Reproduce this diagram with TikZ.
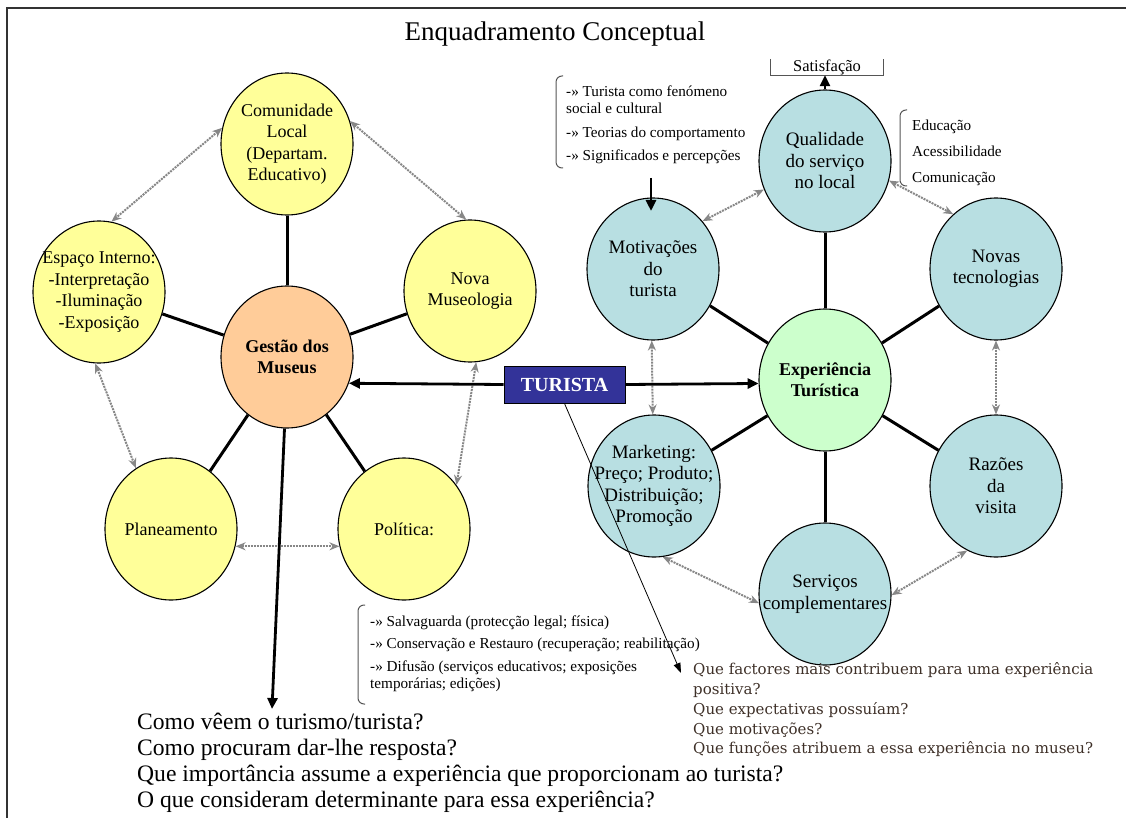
\documentclass[tikz,border=0pt]{standalone}
\usepackage{fontspec}
\setmainfont{Liberation Serif}
\newfontfamily\qfont{DejaVu Serif}
\usetikzlibrary{shapes.geometric,arrows.meta}

\definecolor{yel}{RGB}{255,255,153}
\definecolor{org}{RGB}{255,204,153}
\definecolor{cya}{RGB}{184,223,226}
\definecolor{grn}{RGB}{204,255,204}
\definecolor{tblue}{RGB}{51,51,153}
\definecolor{dotgray}{RGB}{135,135,135}
\definecolor{brk}{RGB}{85,85,85}
\definecolor{qbrown}{RGB}{62,48,40}

\begin{document}
\begin{tikzpicture}[x=1pt,y=-1pt,
  bub/.style={ellipse,draw=black,line width=1.1pt,minimum width=132pt,
    minimum height=142pt,inner xsep=-30pt,inner ysep=0pt,align=center},
  lbub/.style={bub,fill=yel,font=\fontsize{18}{21.5}\selectfont},
  rbub/.style={bub,fill=cya,font=\fontsize{19}{21.5}\selectfont},
  spoke/.style={line width=3pt},
  link/.style={draw=dotgray,line width=2pt,densely dotted,
    {Stealth[length=10pt,width=8pt]}-{Stealth[length=10pt,width=8pt]}},
  mainarrow/.style={line width=2.8pt,-{Triangle[length=11pt,width=10pt]}},
  thinarrow/.style={line width=0.8pt,-{Triangle[length=10pt,width=7pt]}},
  bracket/.style={draw=brk,line width=1pt,rounded corners=6pt},
  item/.style={anchor=base west,inner sep=0pt,font=\fontsize{15.2}{17.5}\selectfont},
  qleft/.style={anchor=base west,inner sep=0pt,font=\fontsize{23.6}{26}\selectfont},
  qright/.style={anchor=base west,inner sep=0pt,text=qbrown,font=\qfont\fontsize{15}{20}\selectfont}]

\useasboundingbox (0,0) rectangle (1126,818);

% frame
\draw[line width=1.5pt,black!80] (7,818) -- (7,8) -- (1126,8);

% title
\node[anchor=base,inner sep=0pt,font=\fontsize{27}{30}\selectfont] (title) at (555,41) {Enquadramento Conceptual};

% museum side
\node[lbub] (com) at (287,144) {Comunidade\\Local\\(Departam.\\Educativo)};
\node[lbub] (esp) at (99,292) {Espaço Interno:\\-Interpretação\\-Iluminação\\-Exposição};
\node[lbub] (nov) at (470,291) {Nova\\Museologia};
\node[bub,fill=org,font=\bfseries\fontsize{18}{21.5}\selectfont] (ges) at (287,357) {Gestão dos\\Museus};
\node[lbub] (pla) at (171,529) {Planeamento};
\node[lbub] (pol) at (404,529) {Política:};

% tourist side
\node[rbub] (qua) at (825,161) {Qualidade\\do serviço\\no local};
\node[rbub] (mot) at (653,269) {Motivações\\do\\turista};
\node[rbub] (nte) at (996,269) {Novas\\tecnologias};
\node[bub,fill=grn,font=\bfseries\fontsize{18}{21.5}\selectfont] (exp) at (825,380) {Experiência\\Turística};
\node[rbub] (mkt) at (654,486) {Marketing:\\Preço; Produto;\\Distribuição;\\Promoção};
\node[rbub] (raz) at (996,486) {Razões\\da\\visita};
\node[rbub] (ser) at (825,594) {Serviços\\complementares};

% spokes
\foreach \n in {com,esp,nov,pla,pol} \draw[spoke] (ges) -- (\n);
\foreach \n in {qua,mot,nte,mkt,raz,ser} \draw[spoke] (exp) -- (\n);

% dotted two-way links
\draw[link] (com.166) -- (esp.80);
\draw[link] (com.20) -- (nov.93);
\draw[link] (esp.-93) -- (pla.120);
\draw[link] (nov.-85) -- (pol.40);
\draw[link] (pla.-15) -- (pol.195);
\draw[link] (qua.-155) -- (mot.44);
\draw[link] (qua.-17) -- (nte.128);
\draw[link] (mot.-91) -- (mkt.91);
\draw[link] (nte.-90) -- (raz.90);
\draw[link] (mkt.-83) -- (ser.188);
\draw[link] (raz.-114) -- (ser.-1);

% tourist box and its arrows
\node[draw=black,line width=1pt,fill=tblue,minimum width=121pt,minimum height=37pt,
  inner sep=0pt,text=white,font=\bfseries\fontsize{20}{24}\selectfont] (tur) at (564.5,384.5) {TURISTA};
\draw[mainarrow] (tur.west) -- (ges.-23);
\draw[mainarrow] (tur.east) -- (exp.183);

% satisfaction
\node[minimum width=112pt,minimum height=16pt,inner sep=0pt,
  font=\fontsize{16.5}{18}\selectfont] (sat) at (827,67) {Satisfação};
\draw[line width=1pt,brk] (sat.north west) -- (sat.south west) -- (sat.south east) -- (sat.north east);
\draw[mainarrow] (qua.north) -- (qua.north |- sat.south);

% tourist approach list
\draw[bracket] (563,76) -- (556,76) -- (556,168) -- (563,168);
\node[item] (t1) at (566,96.5) {-» Turista como fenómeno};
\node[item] (t2) at (566,114) {social e cultural};
\node[item] (t3) at (566,137.5) {-» Teorias do comportamento};
\node[item] (t4) at (566,161) {-» Significados e percepções};
\coordinate (ta) at (651,178);
\coordinate (tb) at (651,211);
\draw[mainarrow] (ta) -- (tb);

% service quality list
\draw[bracket] (907,110) -- (900,110) -- (900,186) -- (907,186);
\node[item] (e1) at (912,131) {Educação};
\node[item] (e2) at (912,157) {Acessibilidade};
\node[item] (e3) at (912,183) {Comunicação};

% policy list
\draw[bracket] (365,605) -- (358,605) -- (358,704) -- (365,704);
\node[item] (p1) at (370,626) {-» Salvaguarda (protecção legal; física)};
\node[item] (p2) at (370,648.5) {-» Conservação e Restauro (recuperação; reabilitação)};
\node[item] (p3) at (370,671) {-» Difusão (serviços educativos; exposições};
\node[item] (p4) at (370,688.5) {temporárias; edições)};

% questions for the museums
\coordinate (qa) at (272,709);
\draw[mainarrow] (ges.-92) -- (qa);
\node[qleft] (m1) at (137,729) {Como vêem o turismo/turista?};
\node[qleft] (m2) at (137,755) {Como procuram dar-lhe resposta?};
\node[qleft] (m3) at (137,781) {Que importância assume a experiência que proporcionam ao turista?};
\node[qleft] (m4) at (137,807) {O que consideram determinante para essa experiência?};

% questions for the tourists
\coordinate (qb) at (681,673);
\draw[thinarrow] (tur.south) -- (qb);
\node[qright] (r1) at (693,674) {Que factores mais contribuem para uma experiência};
\node[qright] (r2) at (693,694) {positiva?};
\node[qright] (r3) at (693,714) {Que expectativas possuíam?};
\node[qright] (r4) at (693,734) {Que motivações?};
\node[qright] (r5) at (693,753) {Que funções atribuem a essa experiência no museu?};

\end{tikzpicture}
\end{document}
